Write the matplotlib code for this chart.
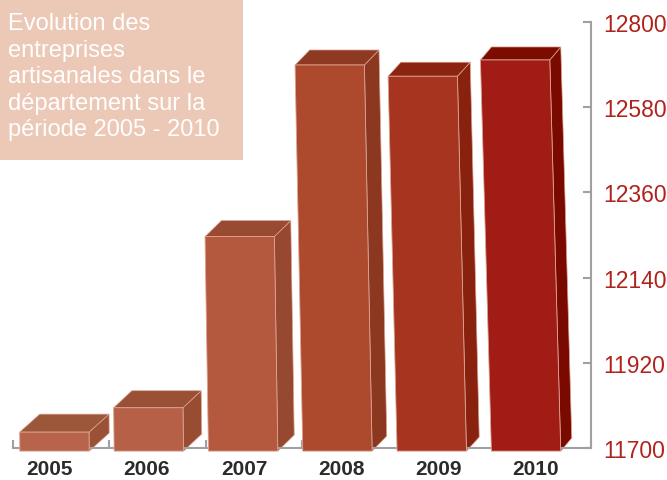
import matplotlib
matplotlib.use("Agg")
import matplotlib.pyplot as plt
from matplotlib.patches import Polygon, Rectangle
import numpy as np

years = ["2005", "2006", "2007", "2008", "2009", "2010"]
values = [11741, 11804, 12246, 12689, 12660, 12702]
y_ticks = [11700, 11920, 12140, 12360, 12580, 12800]
front_colors = ["#b8644c", "#b66048", "#b4583e", "#ad4a2e", "#a7341e", "#a01c14"]
top_colors = ["#9c5639", "#9a5034", "#984a32", "#8e3a22", "#8a2410", "#7d0c00"]
side_colors = ["#9a5236", "#984c32", "#964830", "#8c3820", "#88220e", "#7a0a00"]
title = "Evolution des\nentreprises\nartisanales dans le\ndépartement sur la\npériode 2005 - 2010"

W, H, DPI = 667, 481, 100
fig = plt.figure(figsize=(W / DPI, H / DPI), dpi=DPI)
fig.patch.set_facecolor("white")

left_px, right_px, bottom_px, top_px = 13, 591, 449, 23
ax = fig.add_axes([left_px / W, 1 - bottom_px / H, (right_px - left_px) / W, (bottom_px - top_px) / H])
ax.set_facecolor("none")

n = len(years)
ymin, ymax = y_ticks[0], y_ticks[-1]
ax.set_xlim(-0.5, n - 0.5)
ax.set_ylim(ymin, ymax)

px_per_x = (right_px - left_px) / n
px_per_y = (bottom_px - top_px) / (ymax - ymin)

idx = np.arange(n)
bar_pos = idx * 0.979 - 0.069
label_pos = idx * 1.010 - 0.121
width = 0.72
base = ymin - 8
for i, v in enumerate(values):
    xc = bar_pos[i]
    x0, x1 = xc - width / 2, xc + width / 2
    h_px = (v - base) * px_per_y
    lean = -(0.008 + 0.004 * i) * h_px / px_per_x
    dxp = 20 - 1.8 * i
    dyp = 18 - 1.0 * i
    ddx = dxp / px_per_x
    ddy = dyp / px_per_y
    tx0, tx1 = x0 + lean, x1 + lean
    ec = "#dca494"
    side = Polygon([(x1, base), (x1 + ddx, base + ddy), (tx1 + ddx, v + ddy), (tx1, v)],
                   closed=True, facecolor=side_colors[i], edgecolor=ec, lw=0.5,
                   clip_on=False, zorder=2)
    ax.add_patch(side)
    top = Polygon([(tx0, v), (tx0 + ddx, v + ddy), (tx1 + ddx, v + ddy), (tx1, v)],
                  closed=True, facecolor=top_colors[i], edgecolor=ec, lw=0.5,
                  clip_on=False, zorder=2)
    ax.add_patch(top)
    front = Polygon([(x0, base), (x1, base), (tx1, v), (tx0, v)],
                    closed=True, facecolor=front_colors[i], edgecolor=ec, lw=0.6,
                    clip_on=False, zorder=3)
    ax.add_patch(front)

# axes styling
for s in ["left", "top"]:
    ax.spines[s].set_visible(False)
for s in ["right", "bottom"]:
    ax.spines[s].set_color("#a0a0a4")
    ax.spines[s].set_linewidth(1.5)

ax.yaxis.tick_right()
ax.set_yticks(y_ticks)
ax.set_yticklabels([str(t) for t in y_ticks])
ax.tick_params(axis="y", direction="in", length=6, width=1.5, color="#a0a0a4",
               labelcolor="#b0231d", labelsize=16.5, pad=9)
for lab in ax.get_yticklabels():
    lab.set_fontfamily("Liberation Sans")

ax.set_xticks(np.arange(-0.5, n, 1.0))
ax.set_xticklabels([])
ax.tick_params(axis="x", which="major", direction="in", length=6, width=1.5, color="#a0a0a4")
ax.set_xticks(label_pos, minor=True)
ax.set_xticklabels(years, minor=True)
ax.tick_params(axis="x", which="minor", length=0, pad=8, labelsize=15, labelcolor="#2b2b2b")
for lab in ax.get_xticklabels(minor=True):
    lab.set_fontweight("bold")
    lab.set_fontfamily("Liberation Sans")

# title box
fig.patches.append(Rectangle((0, 1 - 161 / H), 243 / W, 161 / H, transform=fig.transFigure,
                             facecolor="#ecc8b6", edgecolor="none", zorder=0))
fig.text(8 / W, 1 - 13 / H, title, color="white", fontsize=17, family="Liberation Sans",
         va="top", ha="left", linespacing=1.27, zorder=5)

fig.savefig("out.png", dpi=DPI)
